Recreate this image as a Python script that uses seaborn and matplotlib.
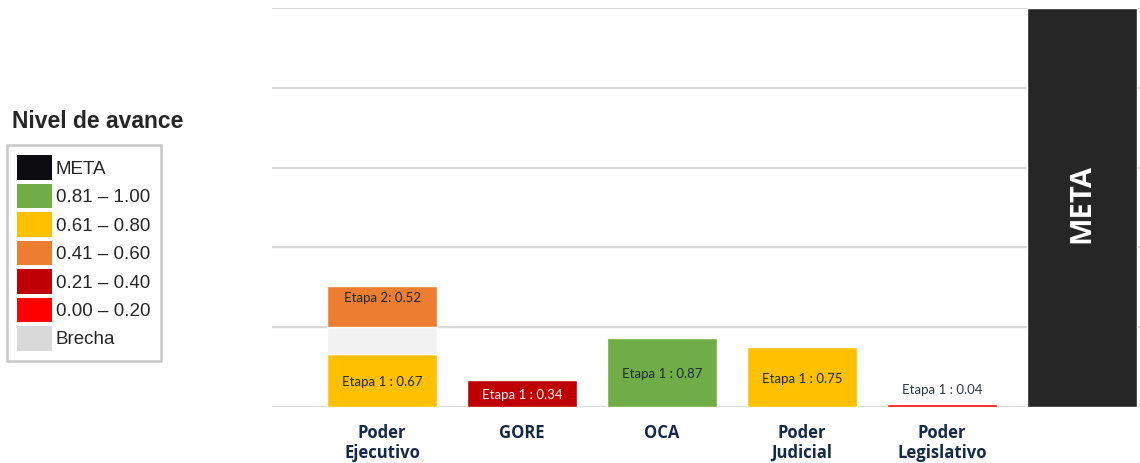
import matplotlib
matplotlib.use('Agg')
import matplotlib.pyplot as plt
import seaborn as sns
import pandas as pd
from matplotlib.patches import Patch

# ---------------------------------------------------------------------------
# Data
# ---------------------------------------------------------------------------
categories = ['Poder\nEjecutivo', 'GORE', 'OCA', 'Poder\nJudicial', 'Poder\nLegislativo']
etapa1 = [0.67, 0.34, 0.87, 0.75, 0.04]
# Poder Ejecutivo also has a second stage on top of a gap ("brecha") to 1.0
ejecutivo_brecha = 0.33
ejecutivo_etapa2 = 0.52
meta_label = 'META'
meta_value = 5

legend_labels = ['META', '0.81 – 1.00', '0.61 – 0.80', '0.41 – 0.60',
                 '0.21 – 0.40', '0.00 – 0.20', 'Brecha']
legend_colors = ['#0b0b10', '#70AD47', '#FFC000', '#ED7D31',
                 '#C00000', '#FF0000', '#D9D9D9']


def level_color(v):
    if v > 0.80:
        return '#70AD47'
    if v > 0.60:
        return '#FFC000'
    if v > 0.40:
        return '#ED7D31'
    if v > 0.20:
        return '#C00000'
    return '#FF0000'


df = pd.DataFrame({'cat': categories + [meta_label],
                   'valor': etapa1 + [meta_value]})
colors = [level_color(v) for v in etapa1] + ['#262626']

# ---------------------------------------------------------------------------
# Plot
# ---------------------------------------------------------------------------
sns.set_style('white')
fig = plt.figure(figsize=(11.4, 4.63), dpi=100)
ax = fig.add_axes([272 / 1140, 56 / 463, 1 - 272 / 1140, 399 / 463])

sns.barplot(data=df, x='cat', y='valor', hue='cat', palette=colors,
            width=0.79, legend=False, saturation=1, ax=ax, zorder=2)

# stacked segments for Poder Ejecutivo
ax.bar(0, ejecutivo_brecha, bottom=etapa1[0], width=0.79,
       color='#F2F2F2', zorder=2)
ax.bar(0, ejecutivo_etapa2, bottom=etapa1[0] + ejecutivo_brecha, width=0.79,
       color=level_color(ejecutivo_etapa2), zorder=2)

# bar labels
lab_font = dict(family='Lato', fontsize=9.5, ha='center', va='center')
for i, v in enumerate(etapa1):
    txt = f'Etapa 1 : {v:.2f}'
    c = '#f4f4f4' if level_color(v) == '#C00000' else '#1d2b3a'
    if v < 0.15:
        ax.text(i, v + 0.17, txt, color='#2a3a4a', **lab_font)
    else:
        ax.text(i, v / 2 - 0.02, txt, color=c, **lab_font)
ax.text(0, etapa1[0] + ejecutivo_brecha + ejecutivo_etapa2 / 2 + 0.1,
        f'Etapa 2: {ejecutivo_etapa2:.2f}', color='#1d2b3a', **lab_font)

ax.text(5, meta_value / 2 + 0.05, meta_label, rotation=90, color='white',
        fontsize=21, fontweight='bold', family='Open Sans',
        ha='center', va='center')

ax.set_ylim(0, 5)
ax.set_xlim(-0.786, 5.414)
ax.set_yticks(range(0, 6))
ax.yaxis.grid(True, color='#d9d9d9', linewidth=1.6)
ax.set_axisbelow(True)
ax.tick_params(axis='y', left=False, labelleft=False)
ax.tick_params(axis='x', length=0, pad=12)
ax.set_xticks(range(5))
ax.set_xticklabels(categories, fontsize=12, fontweight='bold',
                   color='#13294b', family='Open Sans', linespacing=1.15)
ax.set_xlabel('')
ax.set_ylabel('')
for s in ax.spines.values():
    s.set_visible(False)

# legend
fig.text(12 / 1140, 1 - 122 / 463, 'Nivel de avance', fontsize=16.5,
         fontweight='bold', family='Liberation Sans', va='center', ha='left')
handles = [Patch(facecolor=c, edgecolor='none') for c in legend_colors]
leg = fig.legend(handles, legend_labels, loc='upper left',
                 bbox_to_anchor=(7 / 1140, 1 - 145 / 463),
                 bbox_transform=fig.transFigure, borderaxespad=0,
                 prop={'family': 'Liberation Sans', 'size': 13.5},
                 handlelength=1.85, handleheight=1.65, handletextpad=0.2,
                 labelspacing=0.2, borderpad=0.55, fancybox=False,
                 framealpha=1)
leg.get_frame().set_edgecolor('#c8c8c8')
leg.get_frame().set_linewidth(1.8)

plt.savefig('out.png', dpi=100)
